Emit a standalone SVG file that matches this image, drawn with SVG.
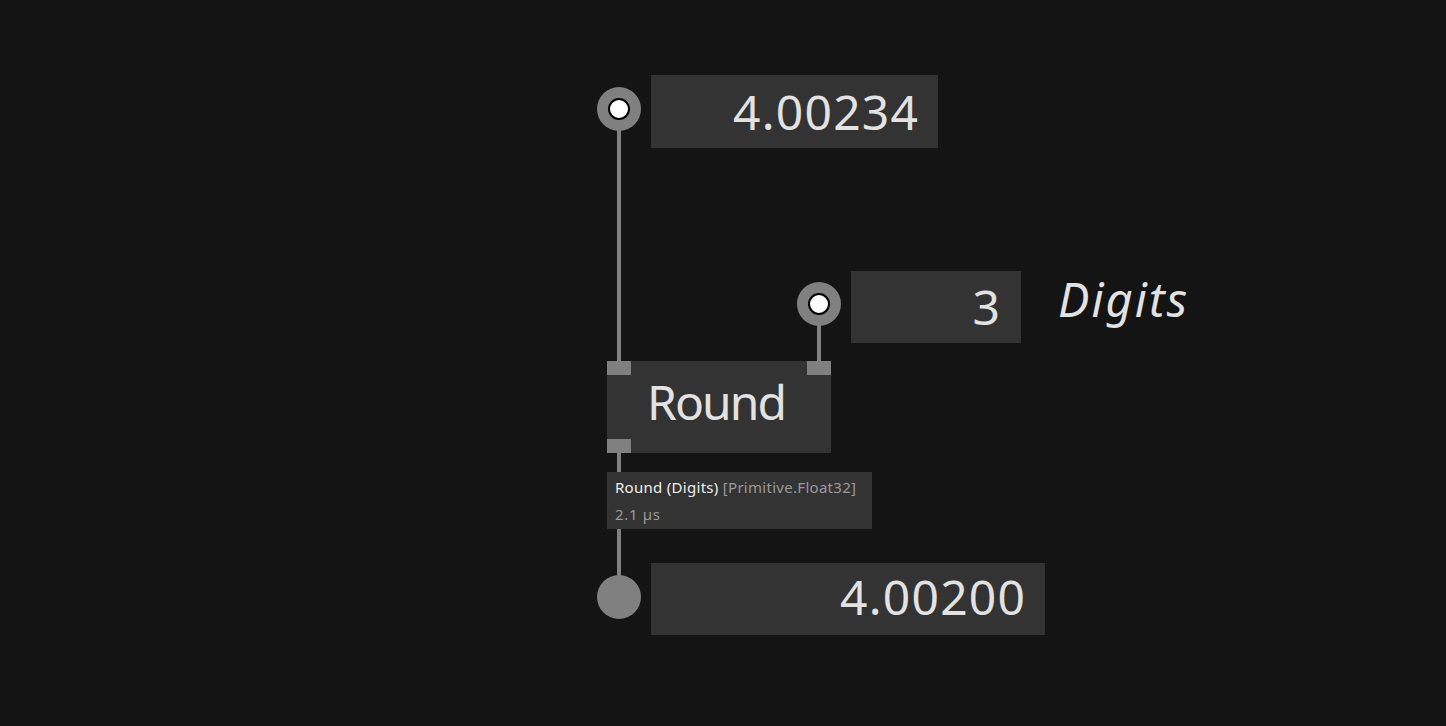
<svg xmlns="http://www.w3.org/2000/svg" width="1446" height="726" viewBox="0 0 1446 726">
<style>
.box{fill:#333333}
.pin{fill:#808080}
.big{font-family:"Noto Sans","Open Sans",sans-serif;font-size:48px;fill:#e2e2e2}
.wire{stroke:#808080;stroke-width:4;fill:none}
.tip{font-family:"Noto Sans","Open Sans",sans-serif;font-size:15px}
</style>
<rect width="1446" height="726" fill="#141414"/>
<g id="connectors">
<line class="wire" x1="619" y1="109" x2="619" y2="362"/>
<line class="wire" x1="819" y1="304" x2="819" y2="362"/>
<line class="wire" x1="619" y1="452" x2="619" y2="597"/>
</g>
<g id="input-value">
<rect class="box" x="651" y="75" width="287" height="73"/>
<text class="big" x="733" y="130" textLength="185" lengthAdjust="spacing">4.00234</text>
<circle class="pin" cx="619" cy="109" r="22"/>
<circle cx="619" cy="109" r="10" fill="#ffffff" stroke="#000" stroke-width="2"/>
</g>
<g id="digits-value">
<rect class="box" x="851" y="271" width="170" height="72"/>
<text class="big" x="1000" y="325" text-anchor="end">3</text>
<circle class="pin" cx="819" cy="304" r="22"/>
<circle cx="819" cy="304" r="10" fill="#ffffff" stroke="#000" stroke-width="2"/>
<text x="1058" y="317" font-family="'Noto Sans','Open Sans',sans-serif" font-size="47" font-style="italic" fill="#e2e2e2" textLength="129" lengthAdjust="spacing">Digits</text>
</g>
<g id="round-node">
<rect class="box" x="607" y="361" width="224" height="92"/>
<rect class="pin" x="607" y="361" width="24" height="14"/>
<rect class="pin" x="807" y="361" width="24" height="14"/>
<rect class="pin" x="607" y="439" width="24" height="14"/>
<text class="big" x="647" y="420" textLength="140" lengthAdjust="spacing">Round</text>
</g>
<g id="tooltip">
<rect class="box" x="607" y="472" width="265" height="57"/>
<text class="tip" x="615" y="493" textLength="241" lengthAdjust="spacing"><tspan fill="#eeeeee">Round (Digits)</tspan><tspan fill="#9a9a9a"> [Primitive.Float32]</tspan></text>
<text class="tip" x="615" y="520" fill="#9a9a9a" textLength="45" lengthAdjust="spacing">2.1 µs</text>
</g>
<g id="output-value">
<rect class="box" x="651" y="563" width="394" height="72"/>
<text class="big" x="840" y="615" textLength="185" lengthAdjust="spacing">4.00200</text>
<circle class="pin" cx="619" cy="597" r="22"/>
</g>
</svg>
